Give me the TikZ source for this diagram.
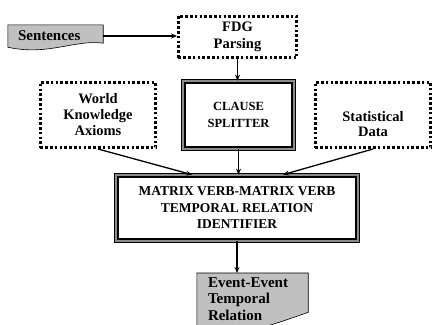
\documentclass[tikz,border=0pt]{standalone}
\usepackage{fontspec}
\setmainfont{Liberation Serif}
\usetikzlibrary{arrows.meta,backgrounds}
\definecolor{DocGray}{HTML}{C0C0C0}
\definecolor{FrameGray}{HTML}{8C8C8C}

\begin{document}
\begin{tikzpicture}[x=1pt,y=-1pt,
  dotbox/.style={draw,line width=2.6pt,dash pattern=on 2.6pt off 2.2pt,align=center,minimum width=115.4pt,minimum height=65.4pt,inner sep=0pt,font=\fontsize{14.5}{16}\selectfont\bfseries},
  framebox/.style={draw,line width=1.3pt,double=FrameGray,double distance=2pt,align=center,inner sep=0pt,font=\bfseries},
  docbox/.style={align=left,font=\fontsize{15}{16.5}\selectfont\bfseries},
  docshape/.style={draw,fill=DocGray,line width=0.6pt},
  arr/.style={-{Stealth[length=6pt,width=5pt]},line width=1.3pt}]
  \useasboundingbox (0,0) rectangle (435,324);
  % input and parser
  \node[docbox,text width=75pt,inner xsep=10pt,inner ysep=0pt,minimum height=22pt] (sent) at (55.5,36) {Sentences};
  \node[dotbox,minimum width=118.4pt,minimum height=41.4pt,font=\fontsize{14.5}{17}\selectfont\bfseries] (fdg) at (237.5,37) {FDG\\Parsing};
  % middle row
  \node[dotbox] (world) at (98,115) {World\\Knowledge\\Axioms};
  \node[framebox,minimum width=110.4pt,minimum height=67.4pt,font=\fontsize{12.5}{17}\selectfont\bfseries] (clause) at (238.5,115) {CLAUSE\\SPLITTER};
  \node[dotbox,label={[yshift=-9pt,align=center,font=\fontsize{14.5}{15.5}\selectfont\bfseries]center:Statistical\\Data}] (stats) at (373,115) {};
  % identifier and output
  \node[framebox,minimum width=241.4pt,minimum height=65.4pt,font=\fontsize{13.5}{16.5}\selectfont\bfseries] (matrix) at (237,208) {MATRIX VERB-MATRIX VERB\\TEMPORAL RELATION\\IDENTIFIER};
  \node[docbox,text width=89pt,inner xsep=11pt,inner ysep=4pt,anchor=north] (evt) at (252.5,273) {Event-Event\\Temporal\\Relation};
  % document shapes
  \begin{scope}[on background layer]
  \draw[docshape] (sent.north west) -- (sent.north east) -- ([yshift=4pt]sent.south east)
    .. controls ([xshift=-28pt,yshift=8pt]sent.south east) and ([xshift=40pt,yshift=-9pt]sent.south west) .. (sent.south west) -- cycle;
  \draw[docshape] (evt.north west) -- (evt.north east) -- ([yshift=12pt]evt.south east)
    .. controls ([xshift=-35pt]evt.south east) and ([xshift=40pt,yshift=-15pt]evt.south west) .. ([yshift=-5pt]evt.south west) -- cycle;
  \end{scope}
  % connectors
  \draw[arr] (sent.east) -- (sent.east -| fdg.west);
  \draw[arr] (fdg.south) -- (fdg.south |- clause.north);
  \draw[arr] (clause.south) -- (clause.south |- matrix.north);
  \draw[arr] (world.south) -- ([xshift=-45pt]matrix.north);
  \draw[arr] (stats.south) -- ([xshift=46pt]matrix.north);
  \draw[arr] (matrix.south) -- (matrix.south |- evt.north);
\end{tikzpicture}
\end{document}
